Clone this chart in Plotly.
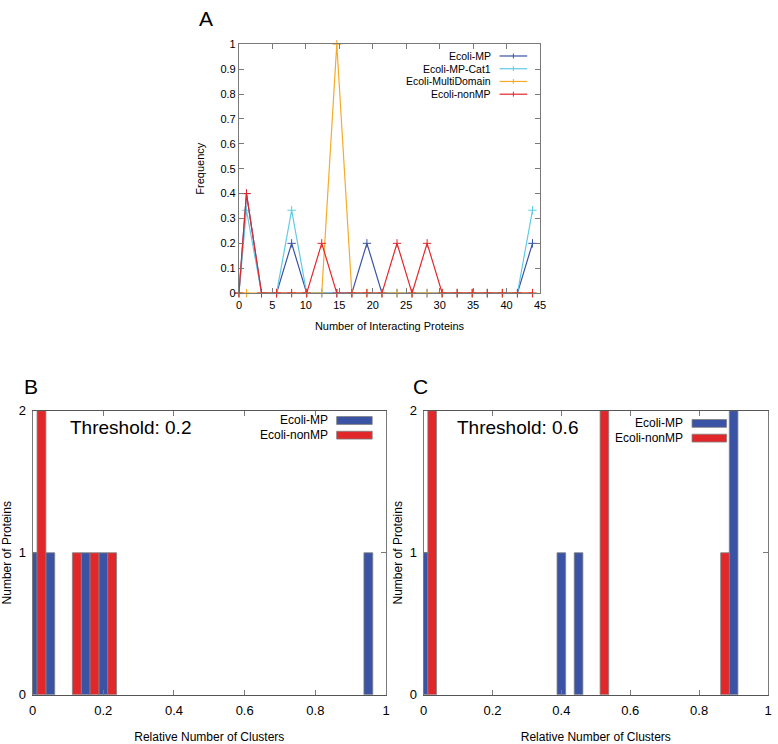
import plotly.graph_objects as go

# panel A: frequency of interacting proteins
bin_x = [0, 1.125, 3.375, 5.625, 7.875, 10.125, 12.375, 14.625, 16.875,
         19.125, 21.375, 23.625, 25.875, 28.125, 30.375, 32.625, 34.875,
         37.125, 39.375, 41.625, 43.875]
ecoli_mp = [0, 0.4, 0, 0, 0.2, 0, 0, 0, 0, 0.2, 0, 0, 0, 0, 0, 0, 0, 0, 0, 0, 0.2]
ecoli_mp_cat1 = [0, 0.333, 0, 0, 0.333, 0, 0, 0, 0, 0, 0, 0, 0, 0, 0, 0, 0, 0, 0, 0, 0.333]
ecoli_multidomain = [0, 0, 0, 0, 0, 0, 0, 1, 0, 0, 0, 0, 0, 0, 0, 0, 0, 0, 0, 0, 0]
ecoli_nonmp = [0, 0.4, 0, 0, 0, 0, 0.2, 0, 0, 0, 0, 0.2, 0, 0.2, 0, 0, 0, 0, 0, 0, 0]

# panel B: threshold 0.2
b_mp_x = [0, 0.05, 0.15, 0.2, 0.95]
b_mp_y = [1, 1, 1, 1, 1]
b_nonmp_x = [0.025, 0.125, 0.175, 0.225]
b_nonmp_y = [2, 1, 1, 1]

# panel C: threshold 0.6
c_mp_x = [0, 0.4, 0.45, 0.9]
c_mp_y = [1, 1, 1, 2]
c_nonmp_x = [0.025, 0.525, 0.875]
c_nonmp_y = [2, 2, 1]

W, H = 778, 744
FONT = 'Liberation Sans'
BLUE = '#3a53a4'
CYAN = '#5fcbe3'
ORANGE = '#f7a928'
RED = '#e2272b'
FRAME = '#7a7a7a'


def fx(p):
    """page pixel -> paper x"""
    return min(max(p / W, 0), 1)


def fy(p):
    """page pixel (from top) -> paper y"""
    return min(max(1 - p / H, 0), 1)


fig = go.Figure()

line_series = [
    ('Ecoli-MP', ecoli_mp, BLUE),
    ('Ecoli-MP-Cat1', ecoli_mp_cat1, CYAN),
    ('Ecoli-MultiDomain', ecoli_multidomain, ORANGE),
    ('Ecoli-nonMP', ecoli_nonmp, RED),
]
for name, vals, col in line_series:
    fig.add_trace(go.Scatter(
        x=bin_x, y=vals, name=name, mode='lines+markers',
        line=dict(color=col, width=1.2),
        marker=dict(symbol='cross-thin', size=6, line=dict(color=col, width=1)),
        xaxis='x', yaxis='y', showlegend=False, cliponaxis=False,
    ))

bar_series = [
    (b_mp_x, b_mp_y, 'Ecoli-MP', BLUE, '2'),
    (b_nonmp_x, b_nonmp_y, 'Ecoli-nonMP', RED, '2'),
    (c_mp_x, c_mp_y, 'Ecoli-MP', BLUE, '3'),
    (c_nonmp_x, c_nonmp_y, 'Ecoli-nonMP', RED, '3'),
]
for xs, ys, name, col, ax in bar_series:
    fig.add_trace(go.Bar(
        x=xs, y=ys, name=name, width=0.025,
        marker=dict(color=col, line=dict(color='#808080', width=0.8)),
        xaxis='x' + ax, yaxis='y' + ax, showlegend=False,
    ))

axis_common = dict(
    showgrid=False, zeroline=False, showline=True, linecolor=FRAME,
    linewidth=1, mirror='ticks', ticks='inside', ticklen=5,
    tickcolor=FRAME, tickfont=dict(family=FONT, size=13, color='black'),
)

fig.update_layout(
    width=W, height=H,
    margin=dict(l=0, r=0, t=0, b=0),
    paper_bgcolor='white', plot_bgcolor='white',
    barmode='overlay', showlegend=False,
    font=dict(family=FONT, color='black'),
    xaxis=dict(axis_common, domain=[fx(238), fx(543)], range=[0, 45], dtick=5,
               tickfont=dict(family=FONT, size=11, color='black'),
               ticklabelstandoff=2,
               title=dict(text='Number of Interacting Proteins',
                          font=dict(size=11), standoff=11)),
    yaxis=dict(axis_common, domain=[fy(292), fy(38)], range=[0, 1], dtick=0.1,
               tickfont=dict(family=FONT, size=11, color='black'),
               title=dict(text='Frequency', font=dict(size=11), standoff=13)),
    xaxis2=dict(axis_common, domain=[fx(29), fx(387)], range=[0, 1], dtick=0.2,
                anchor='y2', linecolor='#555555', ticklabelstandoff=4,
                title=dict(text='Relative Number of Clusters',
                           font=dict(size=12), standoff=15)),
    yaxis2=dict(axis_common, domain=[fy(702), fy(412)], range=[0, 2], dtick=1,
                anchor='x2', ticklabelstandoff=3,
                title=dict(text='Number of Proteins', font=dict(size=12),
                           standoff=4)),
    xaxis3=dict(axis_common, domain=[fx(425), fx(774)], range=[0, 1], dtick=0.2,
                anchor='y3', linecolor='#555555', ticklabelstandoff=4,
                title=dict(text='Relative Number of Clusters',
                           font=dict(size=12), standoff=15)),
    yaxis3=dict(axis_common, domain=[fy(702), fy(412)], range=[0, 2], dtick=1,
                anchor='x3', ticklabelstandoff=3,
                title=dict(text='Number of Proteins', font=dict(size=12),
                           standoff=4)),
)


# gnuplot-style keys: right-aligned text, sample to the right of it
def add_key(names, colors, text_right, key_x0, key_x1, row_top, row_step,
            font_size, kind):
    for i, (name, col) in enumerate(zip(names, colors)):
        yy = row_top + i * row_step
        fig.add_annotation(text=name, x=fx(text_right), y=fy(yy),
                           xref='paper', yref='paper', xanchor='right',
                           yanchor='middle', showarrow=False,
                           font=dict(family=FONT, size=font_size, color='black'))
        if kind == 'line':
            fig.add_shape(type='line', xref='paper', yref='paper',
                          x0=fx(key_x0), x1=fx(key_x1), y0=fy(yy), y1=fy(yy),
                          line=dict(color=col, width=1.2))
            mid = (key_x0 + key_x1) / 2
            fig.add_shape(type='line', xref='paper', yref='paper',
                          x0=fx(mid), x1=fx(mid), y0=fy(yy - 2.5), y1=fy(yy + 2.5),
                          line=dict(color=col, width=1))
        else:
            fig.add_shape(type='rect', xref='paper', yref='paper',
                          x0=fx(key_x0), x1=fx(key_x1),
                          y0=fy(yy - 4), y1=fy(yy + 4),
                          fillcolor=col, line=dict(color='#808080', width=0.8))


add_key([s[0] for s in line_series], [s[2] for s in line_series],
        495, 502, 530, 50, 13, 10.5, 'line')
add_key(['Ecoli-MP', 'Ecoli-nonMP'], [BLUE, RED], 330, 337, 373, 422, 15,
        12, 'bar')
add_key(['Ecoli-MP', 'Ecoli-nonMP'], [BLUE, RED], 690, 697, 732, 425, 15,
        12, 'bar')

# panel letters and threshold notes
for txt, xp, yp in [('A', 205, 12), ('B', 27, 387), ('C', 422, 387)]:
    fig.add_annotation(text=txt, x=fx(xp), y=fy(yp), xref='paper',
                       yref='paper', xanchor='center', yanchor='middle',
                       showarrow=False,
                       font=dict(family=FONT, size=21, color='black'))

fig.add_annotation(text='Threshold: 0.2', x=0.1, y=1.88, xref='x2', yref='y2',
                   xanchor='left', yanchor='middle', showarrow=False,
                   font=dict(family=FONT, size=19, color='black'))
fig.add_annotation(text='Threshold: 0.6', x=0.09, y=1.88, xref='x3', yref='y3',
                   xanchor='left', yanchor='middle', showarrow=False,
                   font=dict(family=FONT, size=19, color='black'))

# drop the default 8px body margin so the figure fills the window exactly
fig.write_html("out.html", config={'displayModeBar': False},
               post_script="document.body.style.margin='0px';")
